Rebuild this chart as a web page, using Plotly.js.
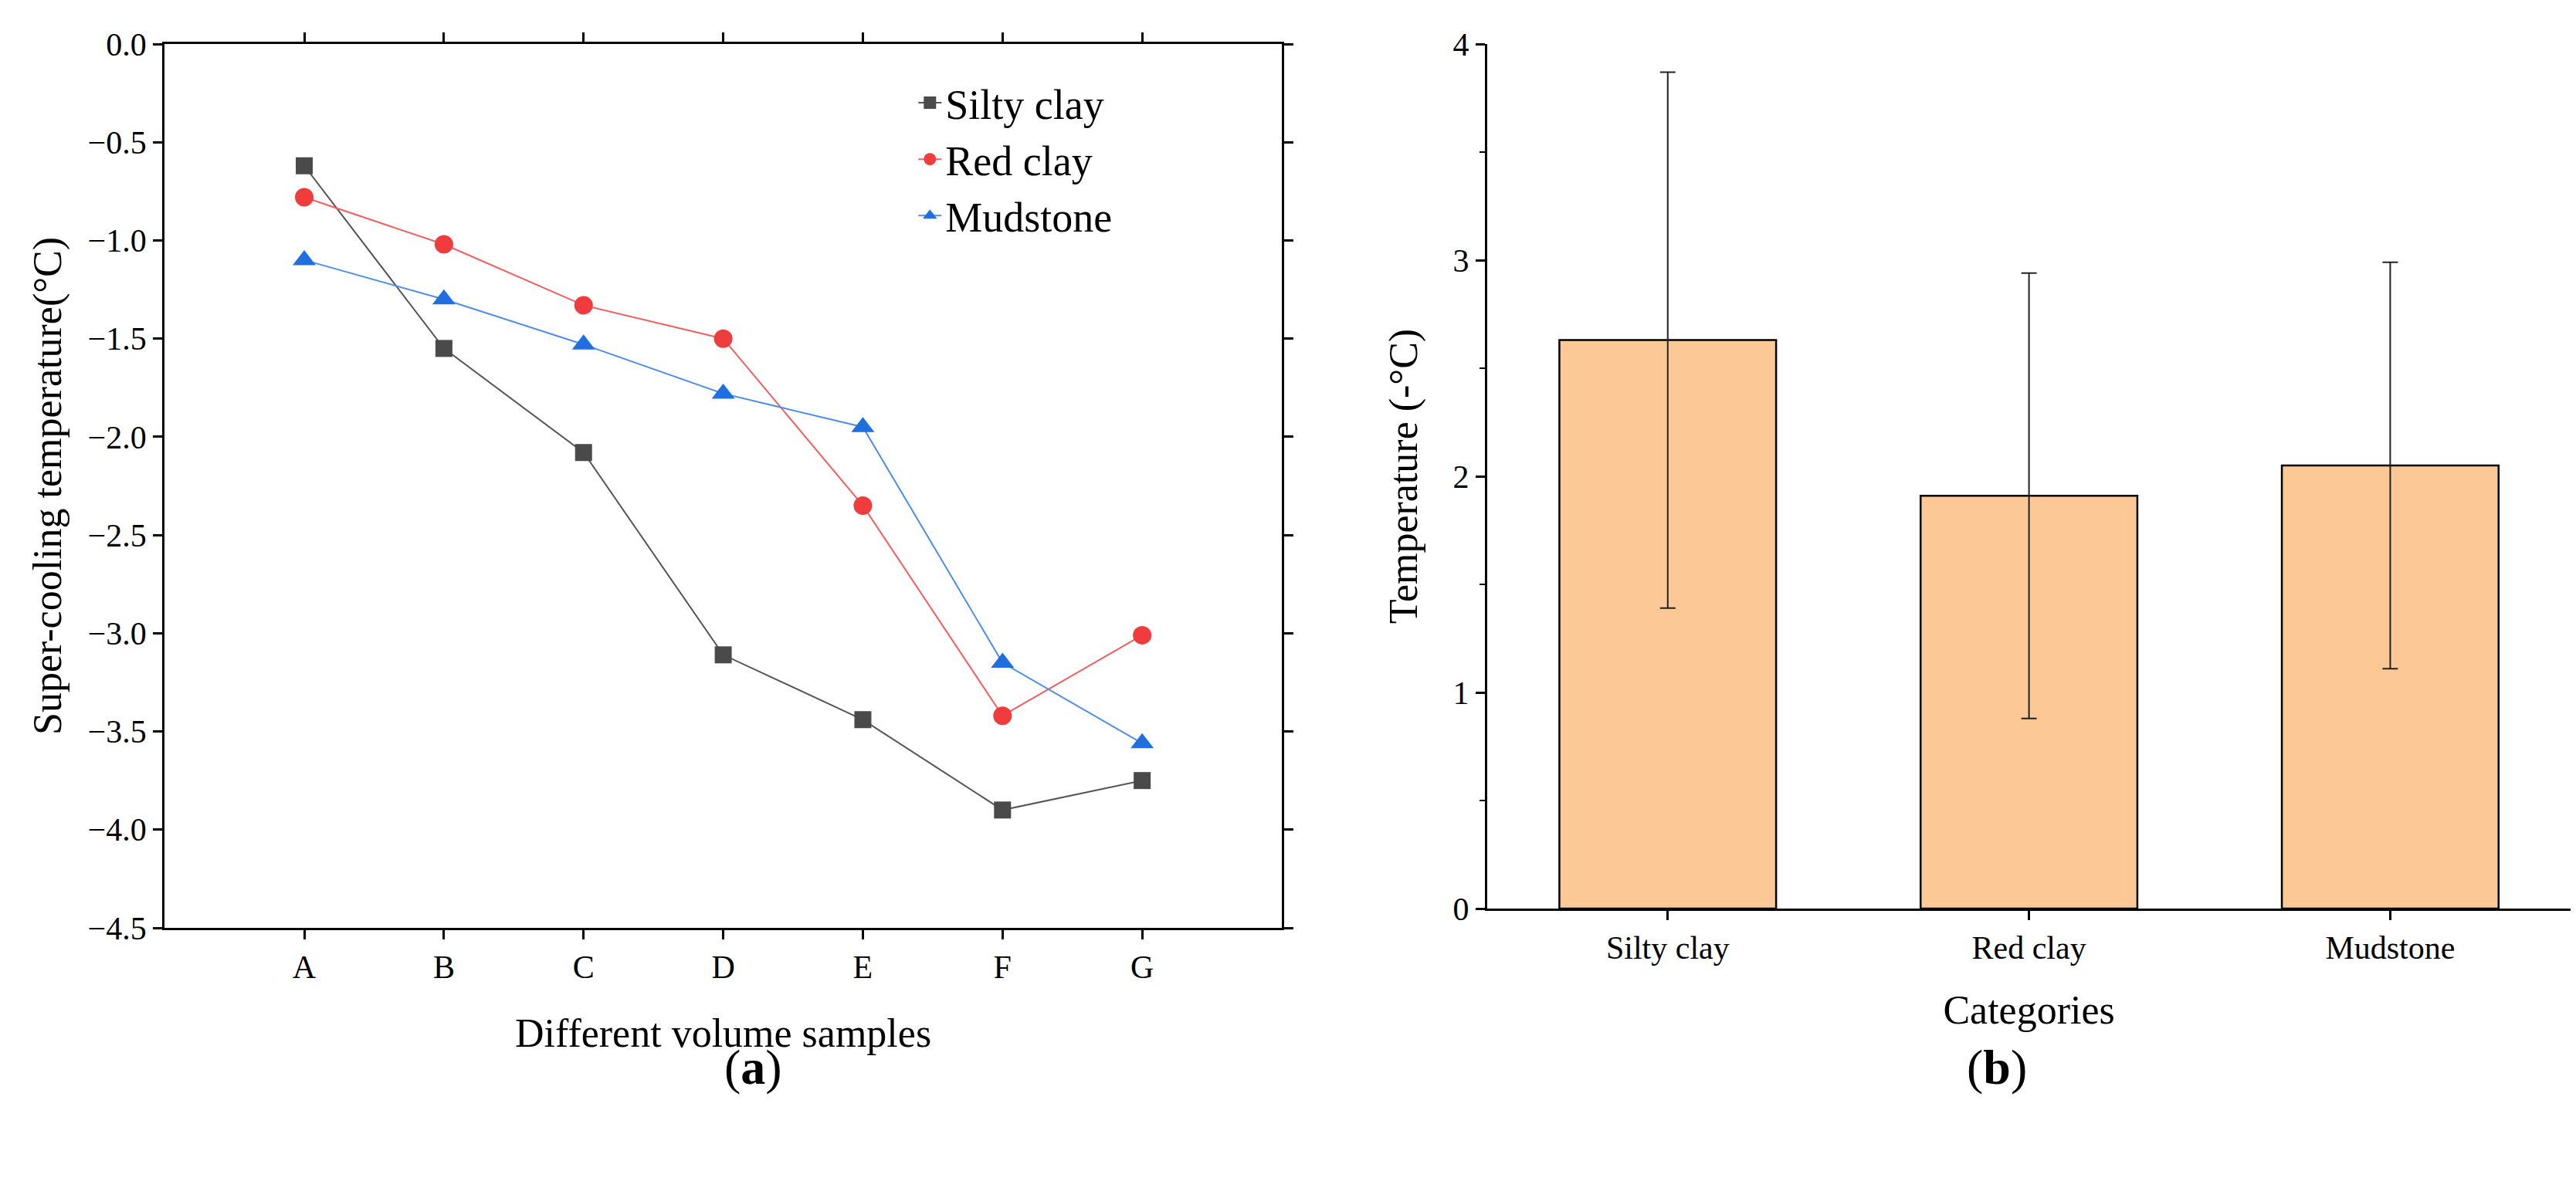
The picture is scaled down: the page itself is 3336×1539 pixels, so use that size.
<!DOCTYPE html>
<html>
<head>
<meta charset="utf-8">
<script src="https://cdn.plot.ly/plotly-3.0.1.min.js"></script>
<style>body{margin:0;background:#fff}#chart{width:3336px;height:1539px}</style>
</head>
<body>
<div id="chart"></div>
<script>
// panel (a)
let samples = ['A', 'B', 'C', 'D', 'E', 'F', 'G'];
let siltyClay = [-0.62, -1.55, -2.08, -3.11, -3.44, -3.90, -3.75];
let redClay = [-0.78, -1.02, -1.33, -1.50, -2.35, -3.42, -3.01];
let mudstone = [-1.10, -1.30, -1.53, -1.78, -1.95, -3.15, -3.56];

// panel (b)
let categories = ['Silty clay', 'Red clay', 'Mudstone'];
let meanTemp = [2.63, 1.91, 2.05];
let errTemp = [1.24, 1.03, 0.94];

let font = 'Liberation Serif, Times New Roman, serif';

let trace1 = {
    type: 'scatter', mode: 'lines+markers', name: 'Silty clay',
    x: samples, y: siltyClay,
    line: { color: '#555555', width: 2 },
    marker: { symbol: 'square', size: 22, color: '#4a4a4a' },
};
let trace2 = {
    type: 'scatter', mode: 'lines+markers', name: 'Red clay',
    x: samples, y: redClay,
    line: { color: '#f06060', width: 2 },
    marker: { symbol: 'circle', size: 24, color: '#f03c3c' },
};
let trace3 = {
    type: 'scatter', mode: 'lines+markers', name: 'Mudstone',
    x: samples, y: mudstone,
    line: { color: '#4d8ee8', width: 2 },
    marker: { symbol: 'triangle-up', size: 26, color: '#1f6fe0' },
};
let trace4 = {
    type: 'bar', x: categories, y: meanTemp, xaxis: 'x2', yaxis: 'y2',
    width: 0.6, showlegend: false,
    marker: { color: '#fbc896', line: { color: '#000', width: 2.5 } },
    error_y: { type: 'data', array: errTemp, visible: true, color: '#222', thickness: 2, width: 10 },
};

let axisCommon = {
    showline: true, linecolor: '#000', linewidth: 3,
    ticks: 'outside', ticklen: 12, tickwidth: 3, tickcolor: '#000',
    showgrid: false, zeroline: false,
    tickfont: { family: font, size: 42, color: '#000' },
};

let layout = {
    width: 3336, height: 1539,
    margin: { l: 0, r: 0, t: 57, b: 337 },
    paper_bgcolor: '#fff', plot_bgcolor: '#fff',
    font: { family: font, color: '#000' },
    xaxis: Object.assign({}, axisCommon, {
        domain: [0.0639, 0.4976], type: 'category', range: [-1, 7], mirror: 'allticks',
        title: { text: 'Different volume samples', font: { family: font, size: 52 }, standoff: 45 },
    }),
    yaxis: Object.assign({}, axisCommon, {
        range: [-4.5, 0], dtick: 0.5, tickformat: '.1f', mirror: 'allticks',
        title: { text: 'Super-cooling temperature(°C)', font: { family: font, size: 52 }, standoff: 18 },
    }),
    xaxis2: Object.assign({}, axisCommon, {
        domain: [0.5773, 0.998], anchor: 'y2', range: [-0.5, 2.5],
        title: { text: 'Categories', font: { family: font, size: 52 }, standoff: 40 },
    }),
    yaxis2: Object.assign({}, axisCommon, {
        domain: [0.0218, 1], anchor: 'x2', range: [0, 4], dtick: 1,
        minor: { dtick: 0.5, ticks: 'outside', ticklen: 7, tickwidth: 2, tickcolor: '#000' },
        title: { text: 'Temperature (-°C)', font: { family: font, size: 52 }, standoff: 30 },
    }),
    legend: {
        x: 0.355, y: 0.97, xanchor: 'left', yanchor: 'top',
        font: { family: font, size: 54 }, bgcolor: 'rgba(0,0,0,0)',
        tracegroupgap: 0,
    },
    annotations: [
        { text: '(<b>a</b>)', x: 0.2807, y: -0.19, xref: 'paper', yref: 'paper', showarrow: false, font: { family: font, size: 64 } },
        { text: '(<b>b</b>)', x: 0.7876, y: -0.19, xref: 'paper', yref: 'paper', showarrow: false, font: { family: font, size: 64 } },
    ],
};

Plotly.newPlot('chart', [trace1, trace2, trace3, trace4], layout, { displayModeBar: false });
</script>
</body>
</html>
